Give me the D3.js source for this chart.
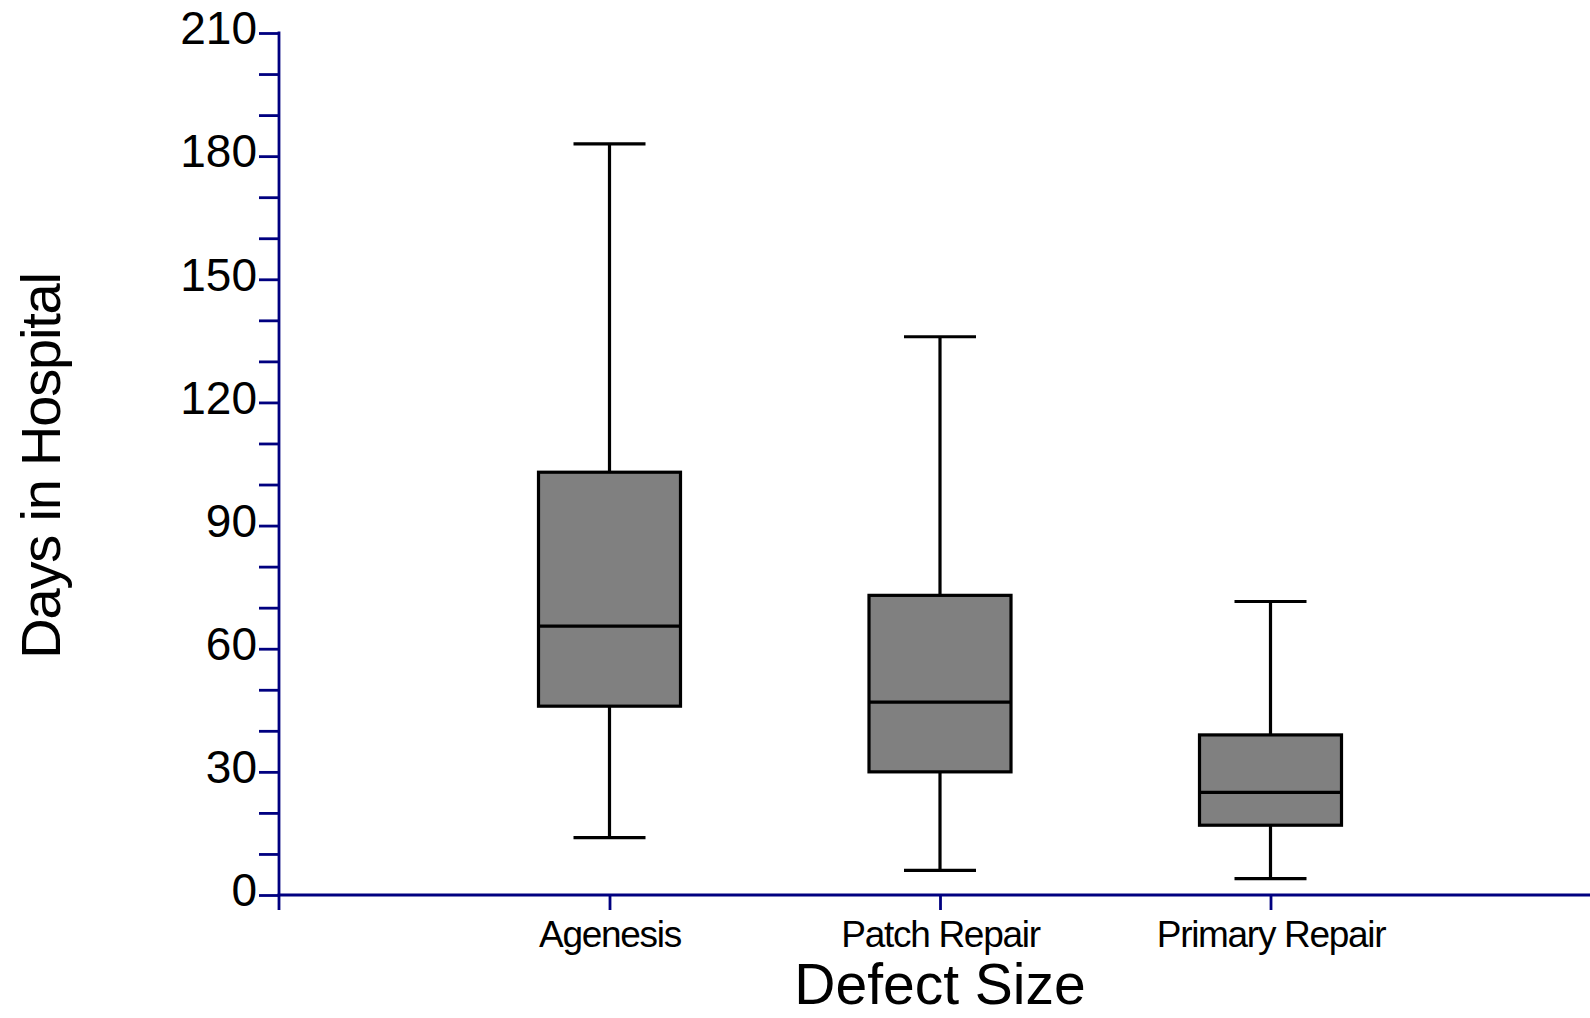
<!DOCTYPE html>
<html>
<head>
<meta charset="utf-8">
<script src="https://cdn.jsdelivr.net/npm/d3@7"></script>
<style>
  html, body { margin: 0; padding: 0; background: #fff; }
  svg { display: block; }
  text { font-family: "Liberation Sans", Arial, sans-serif; fill: #000; }
</style>
</head>
<body>
<svg id="chart" width="1590" height="1018"></svg>
<script>
// Length of hospital stay by defect size (box-and-whisker summary)
const categories = ["Agenesis", "Patch Repair", "Primary Repair"];
const whiskerLow  = [14, 6, 4];
const quartile1   = [46, 30, 17];
const medians     = [65.5, 47, 25];
const quartile3   = [103, 73, 39];
const whiskerHigh = [183, 136, 71.5];

const yTicks = d3.range(0, 211, 10);
const yLabels = [0, 30, 60, 90, 120, 150, 180, 210];

const data = categories.map((c, i) => ({
  name: c, lo: whiskerLow[i], q1: quartile1[i], med: medians[i],
  q3: quartile3[i], hi: whiskerHigh[i]
}));

const svg = d3.select("#chart");
const x0 = 279, y0 = 895;
const axisColor = "#000080";

const y = d3.scaleLinear().domain([0, 210]).range([y0, 33]);
// categories sit at 1, 2, 3 on a unit-spaced axis starting at the y axis
const xPos = d3.scaleLinear().domain([0, 4]).range([x0, x0 + 4 * 330.5]);
const x = name => xPos(categories.indexOf(name) + 1);

// y axis
const yAxis = d3.axisLeft(y)
  .tickValues(yTicks)
  .tickSize(20)
  .tickPadding(2)
  .tickFormat(d => yLabels.includes(d) ? d : "");
const gy = svg.append("g").attr("transform", `translate(${x0},0)`).call(yAxis);
gy.select(".domain").remove();
gy.selectAll(".tick line").attr("stroke", axisColor).attr("stroke-width", 2.8);
gy.selectAll(".tick text")
  .attr("font-size", 46)
  .attr("dy", "0.32em")
  .attr("y", -4)
  .style("font-family", "'Liberation Sans', Arial, sans-serif");
svg.append("line")
  .attr("x1", x0).attr("x2", x0)
  .attr("y1", y(210) - 1.4).attr("y2", y0 + 15)
  .attr("stroke", axisColor).attr("stroke-width", 2.8);

// x axis
const xAxis = d3.axisBottom(xPos)
  .tickValues([1, 2, 3])
  .tickSize(15)
  .tickPadding(11)
  .tickFormat(d => categories[d - 1]);
const gx = svg.append("g").attr("transform", `translate(0,${y0})`).call(xAxis);
gx.select(".domain").remove();
gx.selectAll(".tick line").attr("stroke", axisColor).attr("stroke-width", 2.8);
gx.selectAll(".tick text")
  .attr("font-size", 37)
  .attr("letter-spacing", "-1.3px")
  .style("font-family", "'Liberation Sans', Arial, sans-serif");
svg.append("line")
  .attr("x1", x0 - 1.4).attr("x2", 1590)
  .attr("y1", y0).attr("y2", y0)
  .attr("stroke", axisColor).attr("stroke-width", 2.8);

// axis titles
svg.append("text")
  .attr("x", 940).attr("y", 1004)
  .attr("text-anchor", "middle")
  .attr("font-size", 57)
  .text("Defect Size");
svg.append("text")
  .attr("transform", "translate(60,466) rotate(-90)")
  .attr("text-anchor", "middle")
  .attr("font-size", 56)
  .attr("letter-spacing", "-1.2px")
  .text("Days in Hospital");

// boxes and whiskers
const boxHalf = 71, capHalf = 36;
const g = svg.append("g").selectAll("g").data(data).join("g");
g.append("line")
  .attr("x1", d => x(d.name)).attr("x2", d => x(d.name))
  .attr("y1", d => y(d.hi)).attr("y2", d => y(d.lo))
  .attr("stroke", "#000").attr("stroke-width", 3.2);
g.append("line")
  .attr("x1", d => x(d.name) - capHalf).attr("x2", d => x(d.name) + capHalf)
  .attr("y1", d => y(d.hi)).attr("y2", d => y(d.hi))
  .attr("stroke", "#000").attr("stroke-width", 3.2);
g.append("line")
  .attr("x1", d => x(d.name) - capHalf).attr("x2", d => x(d.name) + capHalf)
  .attr("y1", d => y(d.lo)).attr("y2", d => y(d.lo))
  .attr("stroke", "#000").attr("stroke-width", 3.2);
g.append("rect")
  .attr("x", d => x(d.name) - boxHalf)
  .attr("width", boxHalf * 2)
  .attr("y", d => y(d.q3))
  .attr("height", d => y(d.q1) - y(d.q3))
  .attr("fill", "#808080")
  .attr("stroke", "#000").attr("stroke-width", 3.2);
g.append("line")
  .attr("x1", d => x(d.name) - boxHalf).attr("x2", d => x(d.name) + boxHalf)
  .attr("y1", d => y(d.med)).attr("y2", d => y(d.med))
  .attr("stroke", "#000").attr("stroke-width", 3.2);
</script>
</body>
</html>
